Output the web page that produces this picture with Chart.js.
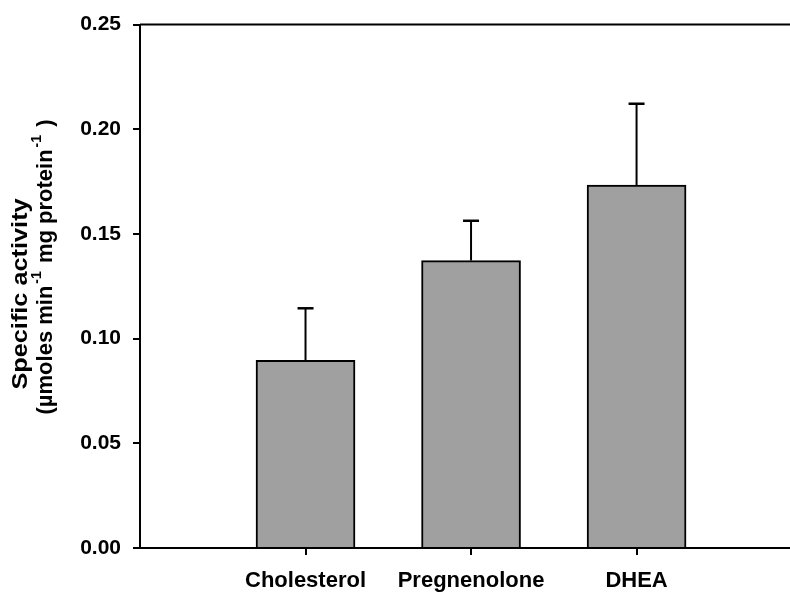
<!DOCTYPE html>
<html lang="en">
<head>
    <meta charset="UTF-8">
    <title>Specific activity</title>
    <script src="https://cdn.jsdelivr.net/npm/chart.js"></script>
    <style>
        body { margin: 0; background: #fff; }
        #wrap { width: 790px; height: 595px; }
    </style>
</head>
<body>
    <div id="wrap"><canvas id="activityChart"></canvas></div>

    <script>
        const substrates = ["Cholesterol", "Pregnenolone", "DHEA"];
        const positions = [1, 2, 3];
        const activity = [0.0896, 0.1373, 0.1734];
        const activityErr = [0.0249, 0.0190, 0.0388];
        const yTicks = [0, 0.05, 0.10, 0.15, 0.20, 0.25];

        const FONT = "'Liberation Sans', Arial, sans-serif";

        // error bars, top frame line and the y title
        const extras = {
            id: "extras",
            afterDatasetsDraw(chart) {
                const ctx = chart.ctx;
                const x = chart.scales.x, y = chart.scales.y;
                const area = chart.chartArea;
                ctx.save();
                ctx.strokeStyle = "#000";
                positions.forEach((p, i) => {
                    const px = x.getPixelForValue(p);
                    const top = y.getPixelForValue(activity[i] + activityErr[i]);
                    const base = y.getPixelForValue(activity[i]);
                    ctx.lineWidth = 2;
                    ctx.beginPath();
                    ctx.moveTo(px, base);
                    ctx.lineTo(px, top);
                    ctx.stroke();
                    ctx.lineWidth = 2.5;
                    ctx.beginPath();
                    ctx.moveTo(px - 8, top);
                    ctx.lineTo(px + 8, top);
                    ctx.stroke();
                });
                // top line
                ctx.lineWidth = 2;
                ctx.beginPath();
                ctx.moveTo(area.left, area.top);
                ctx.lineTo(chart.width, area.top);
                ctx.stroke();
                ctx.restore();

                // y title, first line is a bit stretched like the original
                ctx.save();
                ctx.fillStyle = "#000";
                ctx.textBaseline = "middle";
                ctx.translate(21, 294);
                ctx.rotate(-Math.PI / 2);
                ctx.scale(1.15, 1);
                ctx.font = "bold 22px " + FONT;
                ctx.textAlign = "center";
                ctx.fillText("Specific activity", 0, 0);
                ctx.restore();

                ctx.save();
                ctx.fillStyle = "#000";
                ctx.textBaseline = "middle";
                ctx.translate(46, 267);
                ctx.rotate(-Math.PI / 2);
                const parts = [
                    ["(\u00b5moles min", false], ["-1", true], [" mg protein", false], ["-1", true], [" )", false]
                ];
                const big = "bold 22px " + FONT, small = "bold 14px " + FONT;
                let total = 0;
                parts.forEach(([t, sup]) => {
                    ctx.font = sup ? small : big;
                    total += ctx.measureText(t).width + (sup ? 4 : 0);
                });
                let cx = -total / 2;
                ctx.textAlign = "left";
                parts.forEach(([t, sup]) => {
                    ctx.font = sup ? small : big;
                    ctx.fillText(t, cx + (sup ? 2 : 0), sup ? -9 : 0);
                    cx += ctx.measureText(t).width + (sup ? 4 : 0);
                });
                ctx.restore();
            }
        };

        const ctx = document.getElementById("activityChart").getContext("2d");
        new Chart(ctx, {
            type: "bar",
            data: {
                datasets: [{
                    data: positions.map((p, i) => ({ x: p, y: activity[i] })),
                    backgroundColor: "#a0a0a0",
                    borderColor: "#000",
                    borderWidth: 2,
                    barThickness: 99
                }]
            },
            options: {
                responsive: true,
                maintainAspectRatio: false,
                animation: false,
                layout: { padding: { top: 24, right: 0, bottom: 0, left: 0 } },
                plugins: { legend: { display: false }, tooltip: { enabled: false } },
                scales: {
                    x: {
                        type: "linear",
                        min: 0,
                        max: 3.927,
                        offset: false,
                        afterBuildTicks: s => { s.ticks = positions.map(v => ({ value: v })); },
                        afterFit: s => { s.height = 47; },
                        ticks: {
                            callback: v => substrates[positions.indexOf(v)],
                            color: "#000",
                            font: { family: FONT, size: 22, weight: "bold" },
                            padding: 13,
                            maxRotation: 0,
                            autoSkip: false
                        },
                        grid: { offset: false, drawOnChartArea: false, drawTicks: true, tickLength: 7, color: "#000", lineWidth: 2 },
                        border: { display: true, color: "#000", width: 2 }
                    },
                    y: {
                        min: 0,
                        max: 0.25,
                        afterBuildTicks: s => { s.ticks = yTicks.map(v => ({ value: v })); },
                        afterFit: s => { s.width = 140; },
                        ticks: {
                            callback: v => v.toFixed(2),
                            color: "#000",
                            font: { family: FONT, size: 21, weight: "bold" },
                            padding: 12
                        },
                        grid: { drawOnChartArea: false, drawTicks: true, tickLength: 7, color: "#000", lineWidth: 2 },
                        border: { display: true, color: "#000", width: 2 }
                    }
                }
            },
            plugins: [extras]
        });
    </script>
</body>
</html>
